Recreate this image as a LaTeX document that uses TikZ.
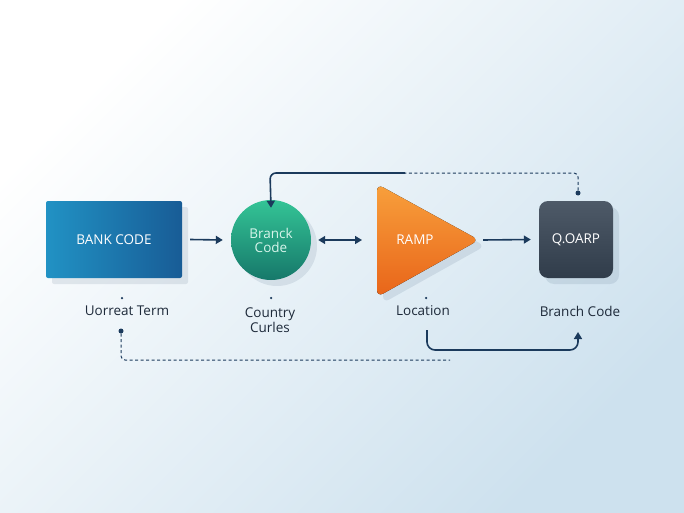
\documentclass[tikz,border=0pt]{standalone}
\usepackage{fontspec}
\setmainfont{Open Sans}
\usetikzlibrary{arrows.meta,shadows}
\definecolor{navy}{HTML}{1B3A5C}
\definecolor{txt}{HTML}{1E2A3A}
\begin{document}
\begin{tikzpicture}[x=1pt,y=-1pt,
  conn/.style={draw=navy,line width=1.6pt,-{Triangle[length=7pt,width=8pt]}},
  dconn/.style={draw=navy,line width=1pt,dash pattern=on 3pt off 2.5pt},
  lbl/.style={text=txt,font=\fontsize{13.5}{16}\selectfont,align=center},
  ntxt/.style={font=\fontsize{13.5}{16}\selectfont,align=center},
  dot/.style={circle,fill=navy,inner sep=0pt,minimum size=5pt},
  sdot/.style={circle,fill=navy,inner sep=0pt,minimum size=2.5pt},
  sh/.style={drop shadow={shadow xshift=6pt,shadow yshift=-6pt,opacity=0.1,fill=navy}}]
\shade[shading=axis,top color=white,bottom color={rgb,255:red,205;green,225;blue,238},shading angle=45] (0,0) rectangle (684,513);
\useasboundingbox (0,0) rectangle (684,513);
% nodes
\node[sh,rectangle,minimum width=136pt,minimum height=77pt,inner sep=0pt,
  left color={rgb,255:red,33;green,146;blue,196},right color={rgb,255:red,24;green,92;blue,150},
  rounded corners=2pt] (bank) at (114,239.5) {};
\node[text=white,ntxt] (bankt) at (bank) {BANK CODE};
\node[sh,circle,minimum size=80pt,inner sep=0pt,
  top color={rgb,255:red,52;green,196;blue,150},bottom color={rgb,255:red,22;green,120;blue,106}] (branch) at (271,240) {};
\node[text={rgb,255:red,215;green,245;blue,235},ntxt] at (branch) {Branck\\[-2pt]Code};
\fill[rounded corners=7pt,top color={rgb,255:red,248;green,160;blue,60},bottom color={rgb,255:red,232;green,100;blue,25},
  drop shadow={shadow xshift=6pt,shadow yshift=-6pt,opacity=0.1,fill=navy}]
  (377,184) -- (479,240) -- (377,297) -- cycle;
\node[text=white,ntxt] (ramp) at (415,240) {RAMP};
\node[sh,rectangle,rounded corners=9pt,minimum width=74pt,minimum height=77pt,inner sep=0pt,
  top color={rgb,255:red,78;green,90;blue,104},bottom color={rgb,255:red,48;green,60;blue,74}] (qoarp) at (576,239.5) {};
\node[text=white,ntxt] at (qoarp) {Q.OARP};
% labels
\node[lbl] (l1) at (127,311) {Uorreat Term};
\node[lbl] (l2) at (270,320) {Country\\[-1pt]Curles};
\node[lbl] (l3) at (423,311) {Location};
\node[lbl] (l4) at (580,311) {Branch Code};
\node[sdot] at (122,298) {};
\node[sdot] at (271,298) {};
\node[sdot] at (426,298) {};
% connectors
\draw[conn] ([xshift=8pt]bank.east) -- ([xshift=-8pt]branch.west);
\draw[draw=navy,line width=1.6pt,{Triangle[length=7pt,width=8pt]}-{Triangle[length=7pt,width=8pt]}] ([xshift=7pt]branch.east) -- (362,240);
\draw[conn] (483,240) -- ([xshift=-8pt]qoarp.west);
% top feedback
\node[dot] (td) at (578,193) {};
\coordinate (t1) at (405,173);
\draw[dconn,rounded corners=4pt] (td) -- (578,173) -- (t1);
\draw[conn,rounded corners=6pt] (t1) -- (270,173) -- ([yshift=-8pt]branch.north);
% bottom dashed
\node[dot] (bd) at (121,331) {};
\coordinate (b1) at (450,360);
\draw[dconn,rounded corners=4pt] (bd) -- (121,360) -- (b1);
% bottom solid
\coordinate (s0) at (427,330);
\draw[conn,rounded corners=8pt] (s0) -- (427,350) -- (578,350) -- (578,332);
\end{tikzpicture}
\end{document}
